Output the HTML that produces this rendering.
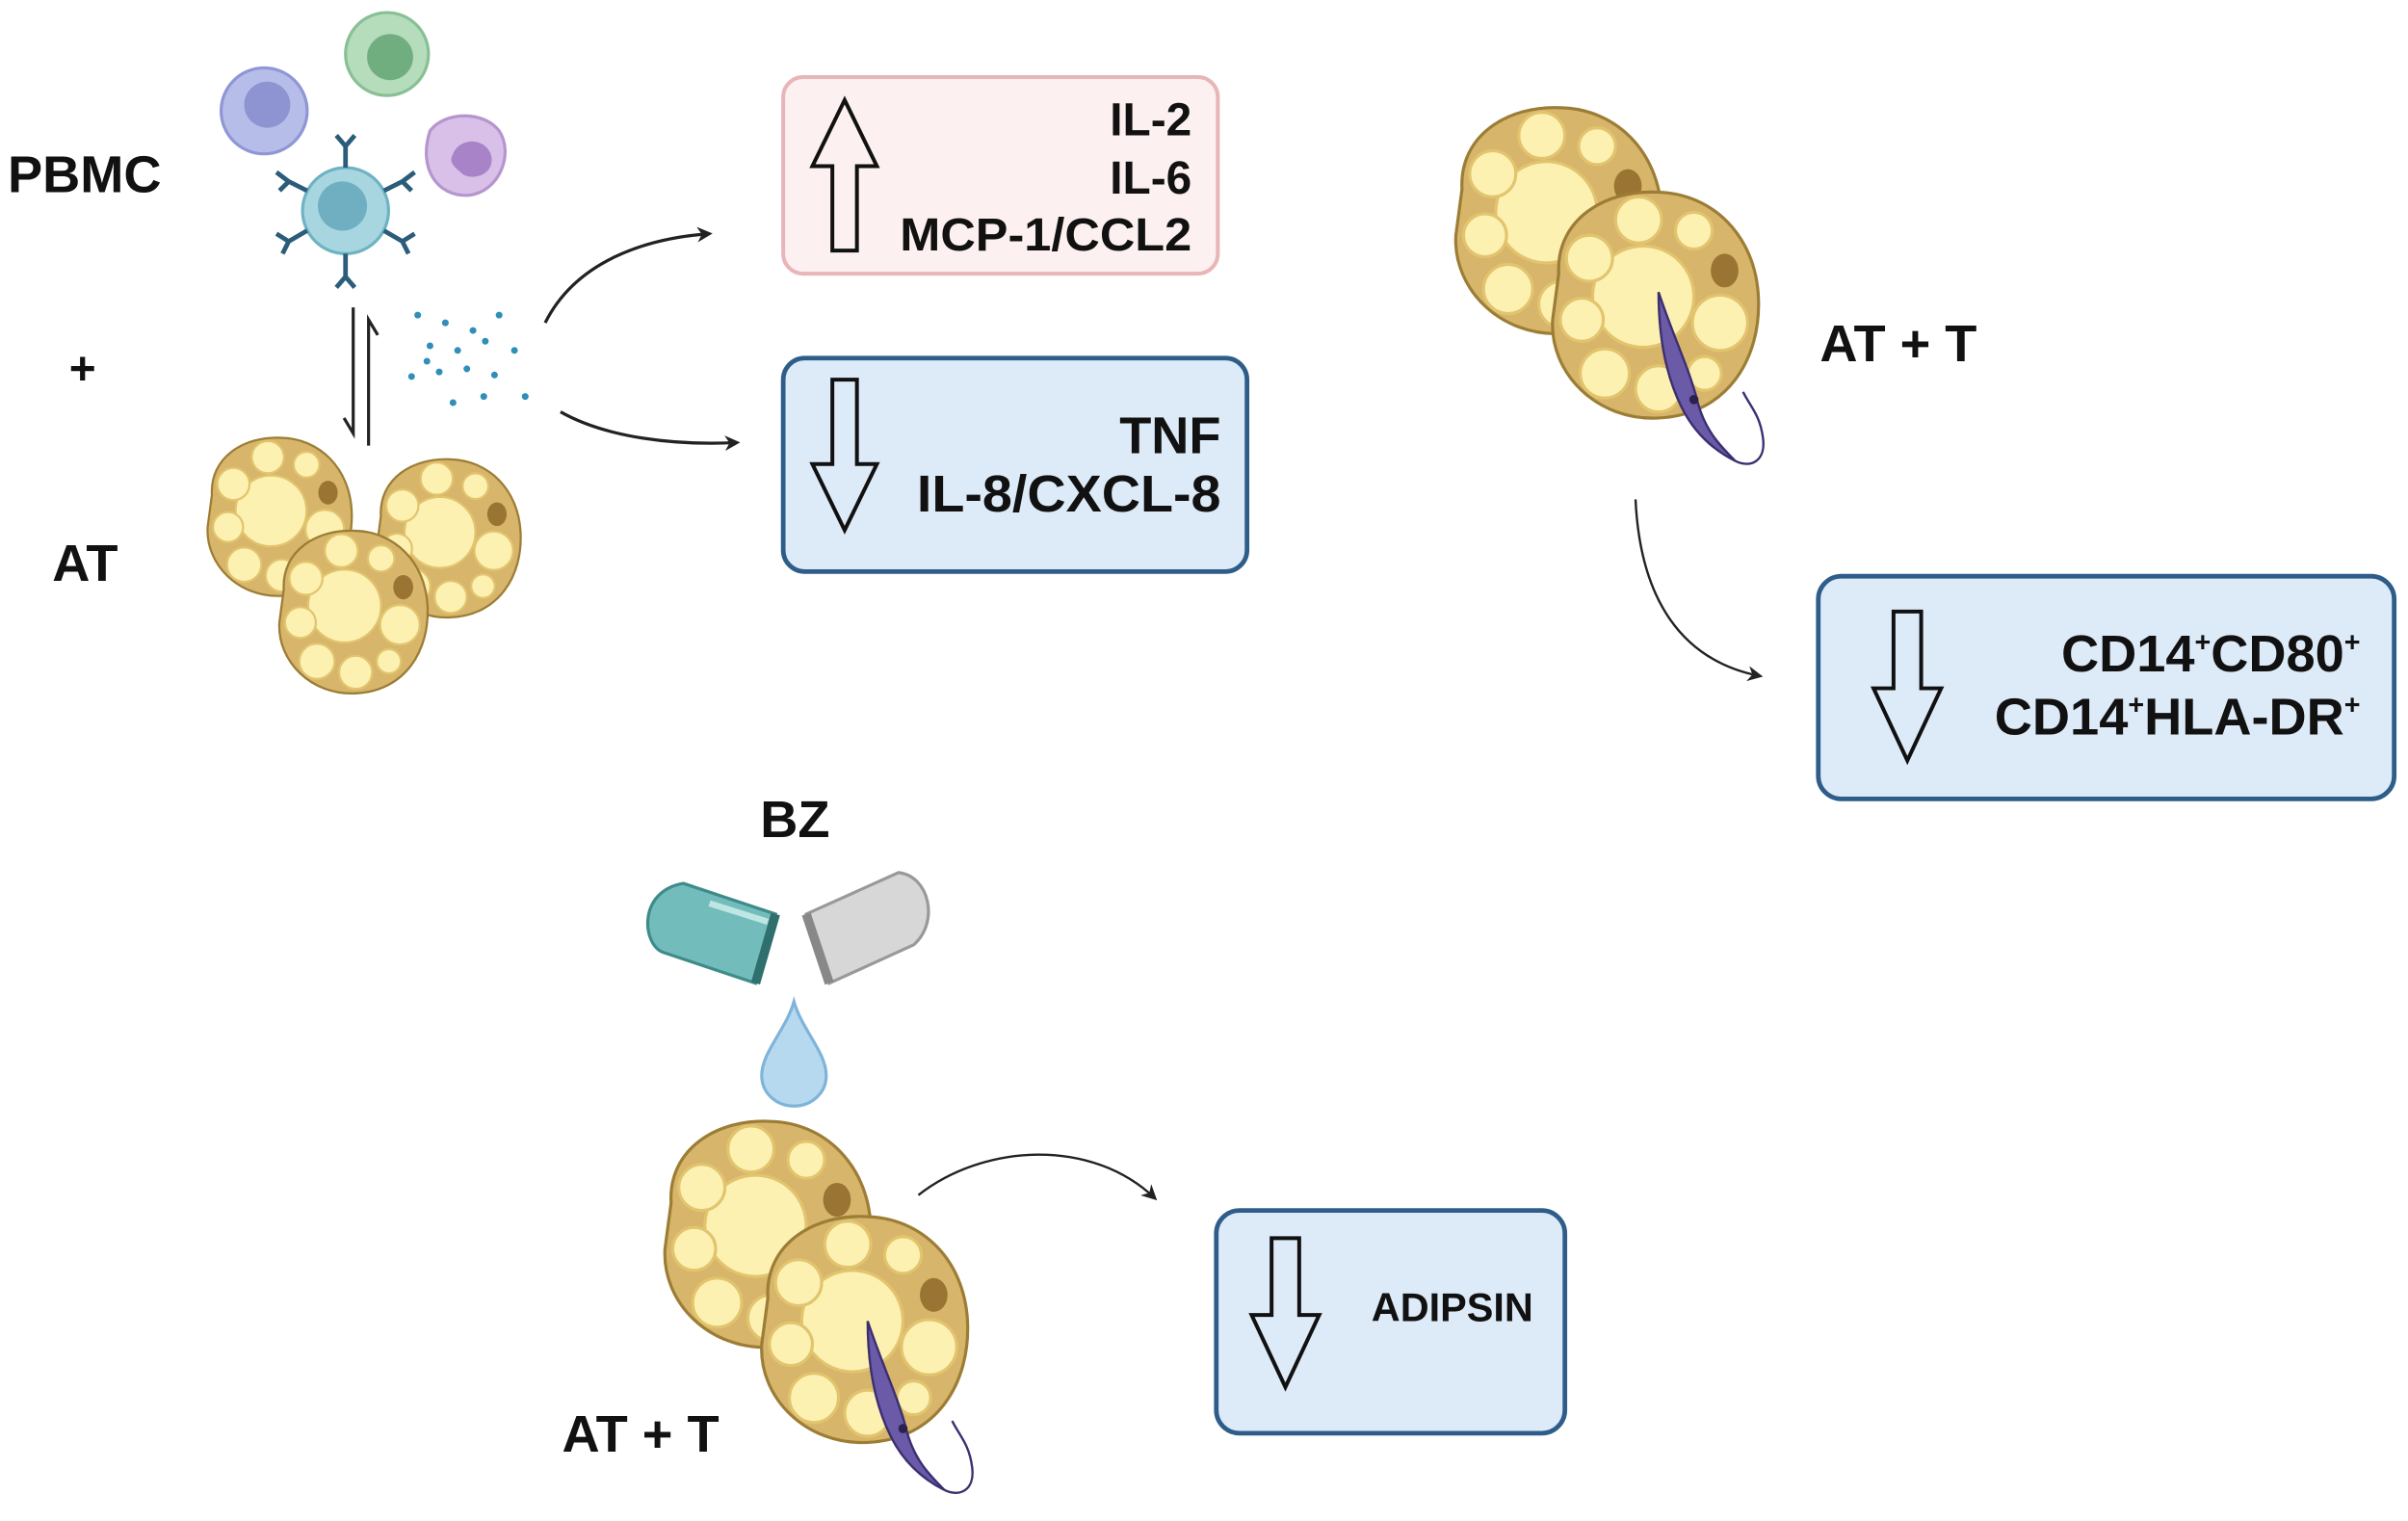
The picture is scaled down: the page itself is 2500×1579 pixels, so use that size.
<!DOCTYPE html>
<html><head><meta charset="utf-8"><style>
html,body{margin:0;padding:0;background:#fff;}
svg{display:block;}
text{font-family:"Liberation Sans",Arial,sans-serif;font-weight:bold;fill:#111;}
</style></head><body>
<svg width="2500" height="1579" viewBox="0 0 1568 990" xmlns="http://www.w3.org/2000/svg">
<defs>
<marker id="ah" markerWidth="10" markerHeight="10" refX="8" refY="5" orient="auto" markerUnits="userSpaceOnUse"><path d="M0,0 L10,5 L0,10 L3,5 Z" fill="#222"/></marker>
<g id="fat">
<path d="M-60,-20 C-62,-55 -30,-75 5,-73 C40,-72 68,-45 70,-5 C72,35 50,72 5,74 C-35,76 -66,45 -64,10 Z" fill="#d7b56a" stroke="#9c7d35" stroke-width="2"/>
<circle cx="-5" cy="-5" r="33" fill="#fdf1b2" stroke="#e2c46e" stroke-width="2"/>
<circle cx="-40" cy="-30" r="15" fill="#fdf1b2" stroke="#e2c46e" stroke-width="2"/>
<circle cx="-8" cy="-55" r="15" fill="#fdf1b2" stroke="#e2c46e" stroke-width="2"/>
<circle cx="28" cy="-48" r="12" fill="#fdf1b2" stroke="#e2c46e" stroke-width="2"/>
<circle cx="45" cy="12" r="18" fill="#fdf1b2" stroke="#e2c46e" stroke-width="2"/>
<circle cx="-45" cy="10" r="14" fill="#fdf1b2" stroke="#e2c46e" stroke-width="2"/>
<circle cx="-30" cy="45" r="16" fill="#fdf1b2" stroke="#e2c46e" stroke-width="2"/>
<circle cx="5" cy="55" r="15" fill="#fdf1b2" stroke="#e2c46e" stroke-width="2"/>
<circle cx="35" cy="45" r="11" fill="#fdf1b2" stroke="#e2c46e" stroke-width="2"/>
<ellipse cx="48" cy="-22" rx="9" ry="11" fill="#9a7433"/>
</g>
<g id="tryp">
<path d="M-20,-60 C-10,-30 0,-10 5,10 C10,30 20,40 30,50 C20,45 5,35 -5,15 C-15,-5 -20,-30 -20,-60 Z" fill="#6a5aa8" stroke="#3b2f70" stroke-width="1.5"/>
<circle cx="3" cy="10" r="3" fill="#2b2050"/>
<path d="M30,50 C40,55 50,50 48,35 C46,20 40,15 35,5" fill="none" stroke="#3b2f70" stroke-width="1.5"/>
</g>
</defs>

<text x="5" y="125" font-size="34">PBMC</text>
<text x="45" y="250" font-size="30">+</text>
<text x="34" y="378" font-size="34">AT</text>

<circle cx="172" cy="72" r="28" fill="#b7bde9" stroke="#8e96d6" stroke-width="2"/>
<circle cx="174" cy="68" r="15" fill="#8e93d2"/>
<circle cx="252" cy="35" r="27" fill="#b5dcbb" stroke="#88c095" stroke-width="2"/>
<circle cx="254" cy="37" r="15" fill="#70ae80"/>
<path d="M280,85 C290,72 315,72 325,85 C335,100 325,125 305,127 C285,128 272,110 280,85Z" fill="#d9c0e8" stroke="#b595cf" stroke-width="2"/>
<path d="M295,100 C300,88 318,90 320,102 C322,115 305,118 300,112 C295,108 292,105 295,100Z" fill="#a983c7"/>
<circle cx="225" cy="137" r="28" fill="#a7d6e0" stroke="#6eb3c2" stroke-width="2"/>
<circle cx="223" cy="134" r="16" fill="#6fafc1"/>
<g stroke="#2b5c7a" stroke-width="3" fill="none">
<path d="M225,109 L225,95 M225,95 L219,88 M225,95 L231,88"/>
<path d="M225,165 L225,180 M225,180 L219,187 M225,180 L231,187"/>
<path d="M200,124 L188,118 M188,118 L180,112 M188,118 L182,124"/>
<path d="M250,124 L262,118 M262,118 L270,112 M262,118 L268,124"/>
<path d="M200,150 L188,157 M188,157 L180,152 M188,157 L184,165"/>
<path d="M250,150 L262,157 M262,157 L270,152 M262,157 L266,165"/>
</g>
<g fill="#2f8fb8">
<circle cx="272" cy="205" r="2.2"/><circle cx="290" cy="210" r="2.2"/><circle cx="308" cy="215" r="2.2"/><circle cx="325" cy="205" r="2.2"/>
<circle cx="280" cy="225" r="2.2"/><circle cx="298" cy="228" r="2.2"/><circle cx="316" cy="222" r="2.2"/><circle cx="335" cy="228" r="2.2"/>
<circle cx="268" cy="245" r="2.2"/><circle cx="286" cy="242" r="2.2"/><circle cx="304" cy="240" r="2.2"/><circle cx="322" cy="244" r="2.2"/>
<circle cx="295" cy="262" r="2.2"/><circle cx="315" cy="258" r="2.2"/><circle cx="342" cy="258" r="2.2"/><circle cx="278" cy="235" r="2.2"/>
</g>
<g stroke="#222" stroke-width="2" fill="none">
<path d="M230,200 L230,282 L224,272"/>
<path d="M240,290 L240,208 L246,218"/>
</g>
<use href="#fat" transform="translate(180,336) scale(0.7)"/>
<use href="#fat" transform="translate(290,350) scale(0.7)"/>
<use href="#fat" transform="translate(228,398) scale(0.72)"/>

<path d="M355,210 C375,170 420,155 462,152" fill="none" stroke="#222" stroke-width="2" marker-end="url(#ah)"/>
<path d="M365,268 C395,285 440,290 480,288" fill="none" stroke="#222" stroke-width="2" marker-end="url(#ah)"/>

<rect x="510" y="50" width="283" height="128" rx="13" fill="#fdf0f0" stroke="#e8b5b9" stroke-width="2.5"/>
<path d="M550,65 L571,108 L558,108 L558,163 L542,163 L542,108 L529,108 Z" fill="none" stroke="#111" stroke-width="2.5"/>
<text x="776" y="88" font-size="30" text-anchor="end">IL-2</text>
<text x="776" y="126" font-size="30" text-anchor="end">IL-6</text>
<text x="776" y="163" font-size="30" text-anchor="end" textLength="190" lengthAdjust="spacingAndGlyphs">MCP-1/CCL2</text>

<rect x="510" y="233" width="302" height="139" rx="14" fill="#ddeaf8" stroke="#2e5d8a" stroke-width="3"/>
<path d="M550,345 L571,302 L558,302 L558,247 L542,247 L542,302 L529,302 Z" fill="none" stroke="#111" stroke-width="2.5"/>
<text x="795" y="295" font-size="34" text-anchor="end">TNF</text>
<text x="795" y="333" font-size="34" text-anchor="end" textLength="198" lengthAdjust="spacingAndGlyphs">IL-8/CXCL-8</text>

<use href="#fat" transform="translate(1012,143)"/>
<use href="#fat" transform="translate(1075,198)"/>
<use href="#tryp" transform="translate(1100,250)"/>
<text x="1185" y="235" font-size="34">AT + T</text>
<path d="M1065,325 C1068,390 1095,430 1146,440" fill="none" stroke="#222" stroke-width="1.5" marker-end="url(#ah)"/>

<rect x="1184" y="375" width="375" height="145" rx="15" fill="#ddeaf8" stroke="#2e5d8a" stroke-width="3"/>
<path d="M1242,495 L1264,448 L1251,448 L1251,398 L1233,398 L1233,448 L1220,448 Z" fill="none" stroke="#111" stroke-width="2.5"/>
<text x="1537" y="437" font-size="34" text-anchor="end">CD14<tspan font-size="18" dy="-13">+</tspan><tspan dy="13">CD80</tspan><tspan font-size="18" dy="-13">+</tspan></text>
<text x="1537" y="478" font-size="34" text-anchor="end">CD14<tspan font-size="18" dy="-13">+</tspan><tspan dy="13">HLA-DR</tspan><tspan font-size="18" dy="-13">+</tspan></text>

<text x="495" y="545" font-size="34">BZ</text>
<path d="M445,575 L505,595 L492,640 L432,620 C418,615 415,580 445,575Z" fill="#72bdbb" stroke="#3e8b8a" stroke-width="2"/>
<path d="M505,595 L492,640" stroke="#2f6f6e" stroke-width="6"/>
<path d="M462,588 L500,600" stroke="#bfe6e3" stroke-width="4"/>
<path d="M585,568 C605,570 612,600 595,615 L540,640 L525,595 Z" fill="#d7d7d7" stroke="#999" stroke-width="2"/>
<path d="M525,595 L540,640" stroke="#888" stroke-width="6"/>
<path d="M517,652 C522,670 538,685 538,700 C538,712 528,720 517,720 C506,720 496,712 496,700 C496,685 512,670 517,652Z" fill="#b6d9f0" stroke="#7fb4d8" stroke-width="2"/>

<use href="#fat" transform="translate(497,803)"/>
<use href="#fat" transform="translate(560,865)"/>
<use href="#tryp" transform="translate(585,920)"/>
<text x="366" y="945" font-size="34">AT + T</text>
<path d="M598,778 C640,745 710,740 752,780" fill="none" stroke="#222" stroke-width="1.5" marker-end="url(#ah)"/>

<rect x="792" y="788" width="227" height="145" rx="15" fill="#ddeaf8" stroke="#2e5d8a" stroke-width="3"/>
<path d="M837,903 L859,856 L846,856 L846,806 L828,806 L828,856 L815,856 Z" fill="none" stroke="#111" stroke-width="2.5"/>
<text x="893" y="860" font-size="26">ADIPSIN</text>
</svg>
</body></html>
